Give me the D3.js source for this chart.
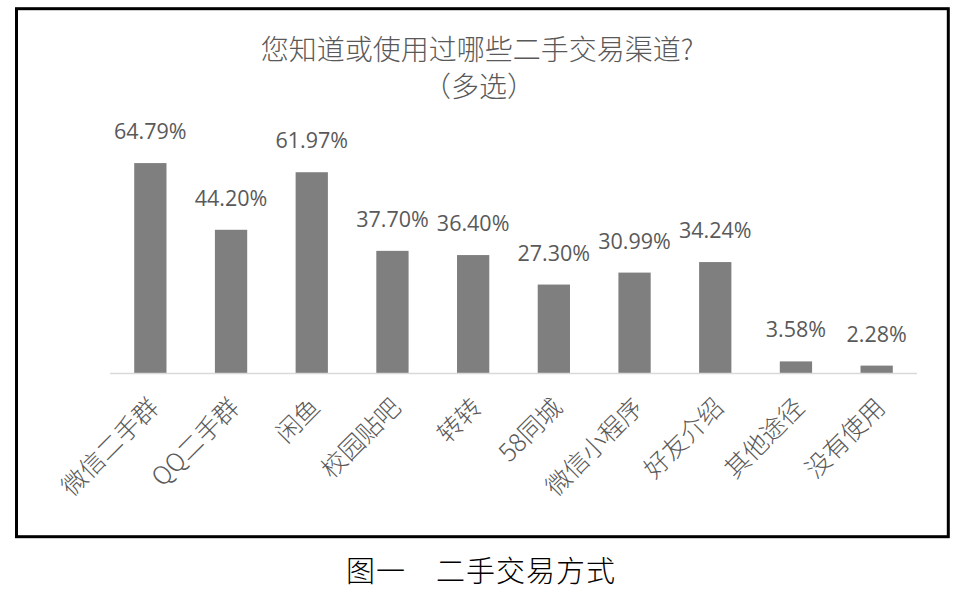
<!DOCTYPE html>
<html>
<head>
<meta charset="utf-8">
<script src="https://cdn.jsdelivr.net/npm/d3@7/dist/d3.min.js"></script>
<style>
  html, body { margin: 0; padding: 0; background: #ffffff; }
  svg { display: block; }
</style>
</head>
<body>
<svg id="chart" width="964" height="593"></svg>
<script>
const categories = ["微信二手群", "QQ二手群", "闲鱼", "校园贴吧", "转转", "58同城", "微信小程序", "好友介绍", "其他途径", "没有使用"];
const values = [64.79, 44.20, 61.97, 37.70, 36.40, 27.30, 30.99, 34.24, 3.58, 2.28];
const valueLabels = ["64.79%", "44.20%", "61.97%", "37.70%", "36.40%", "27.30%", "30.99%", "34.24%", "3.58%", "2.28%"];
const titleLines = ["您知道或使用过哪些二手交易渠道?", "（多选）"];
const caption = "图一　二手交易方式";

const svg = d3.select("#chart");
const cjk = "'Noto Sans CJK SC', 'Noto Sans', sans-serif";
const latin = "'Open Sans', 'Noto Sans', sans-serif";

// outer frame
svg.append("rect")
  .attr("x", 16.5).attr("y", 8.7)
  .attr("width", 931.8).attr("height", 528)
  .attr("fill", "#ffffff")
  .attr("stroke", "#000000")
  .attr("stroke-width", 3);

// title
svg.append("text")
  .attr("x", 477).attr("y", 60)
  .attr("text-anchor", "middle")
  .attr("font-family", cjk).attr("font-size", 28).attr("font-weight", 300)
  .attr("fill", "#595959")
  .text(titleLines[0]);
svg.append("text")
  .attr("x", 479).attr("y", 97)
  .attr("text-anchor", "middle")
  .attr("font-family", cjk).attr("font-size", 28).attr("font-weight", 300)
  .attr("fill", "#595959")
  .text(titleLines[1]);

const baseY = 373;
const x = d3.scaleBand()
  .domain(categories)
  .range([110, 917])
  .paddingInner(0.6)
  .paddingOuter(0.3);

const y = d3.scaleLinear()
  .domain([0, 70])
  .range([baseY, baseY - 226.8]);

const data = categories.map((c, i) => ({ c, v: values[i], label: valueLabels[i] }));

// bars
svg.append("g").selectAll("rect")
  .data(data)
  .join("rect")
  .attr("x", d => x(d.c))
  .attr("y", d => y(d.v))
  .attr("width", x.bandwidth())
  .attr("height", d => y(0) - y(d.v))
  .attr("fill", "#7f7f7f");

// baseline
svg.append("line")
  .attr("x1", 110).attr("x2", 917)
  .attr("y1", baseY + 0.5).attr("y2", baseY + 0.5)
  .attr("stroke", "#d9d9d9")
  .attr("stroke-width", 1.6);

// data labels
svg.append("g").selectAll("text")
  .data(data)
  .join("text")
  .attr("x", d => x(d.c) + x.bandwidth() / 2)
  .attr("y", d => y(d.v) - 24)
  .attr("text-anchor", "middle")
  .attr("font-family", latin)
  .attr("font-size", 21.5)
  .attr("fill", "#595959")
  .text(d => d.label);

// x axis (category labels)
const xAxis = svg.append("g")
  .attr("transform", `translate(0,${baseY})`)
  .call(d3.axisBottom(x).tickSize(0).tickPadding(0));
xAxis.select(".domain").remove();
xAxis.selectAll(".tick text")
  .attr("x", 0).attr("y", 0).attr("dy", 0)
  .attr("transform", "translate(10,36) rotate(-45)")
  .attr("text-anchor", "end")
  .attr("font-family", cjk)
  .attr("font-size", 25)
  .attr("font-weight", 300)
  .attr("fill", "#595959");

// caption
svg.append("text")
  .attr("x", 481).attr("y", 582)
  .attr("text-anchor", "middle")
  .attr("font-family", cjk)
  .attr("font-size", 29)
  .attr("font-weight", 300)
  .attr("letter-spacing", 1)
  .attr("fill", "#000000")
  .text(caption);
</script>
</body>
</html>
